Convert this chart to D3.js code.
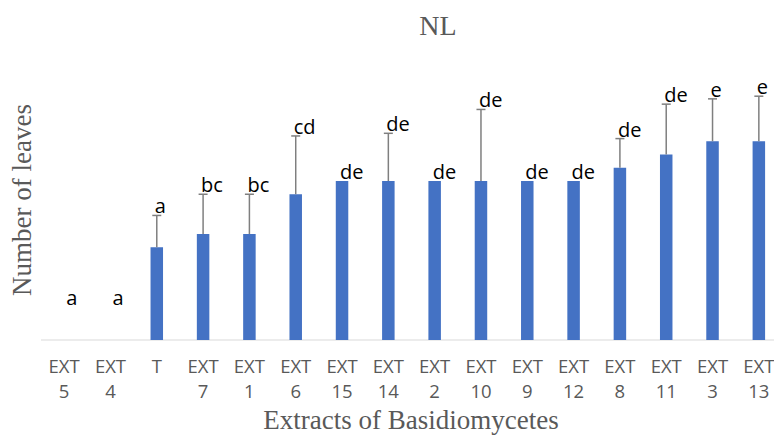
<!DOCTYPE html>
<html>
<head>
<meta charset="utf-8">
<script src="https://cdnjs.cloudflare.com/ajax/libs/d3/7.8.5/d3.min.js"></script>
<style>
  body { margin: 0; background: #fff; }
</style>
</head>
<body>
<script>
// Define SVG area dimensions
const svgWidth = 774;
const svgHeight = 437;

// Chart data
const categories = ["EXT 5", "EXT 4", "T", "EXT 7", "EXT 1", "EXT 6", "EXT 15", "EXT 14",
  "EXT 2", "EXT 10", "EXT 9", "EXT 12", "EXT 8", "EXT 11", "EXT 3", "EXT 13"];
const leaves = [0, 0, 3.5, 4, 4, 5.5, 6, 6, 6, 6, 6, 6, 6.5, 7, 7.5, 7.5];
const errors = [0, 0, 1.2, 1.5, 1.5, 2.2, 0, 1.8, 0, 2.7, 0, 0, 1.1, 1.9, 1.6, 1.7];
const groups = ["a", "a", "a", "bc", "bc", "cd", "de", "de", "de", "de", "de", "de", "de", "de", "e", "e"];

const data = categories.map((c, i) => ({
  name: c,
  value: leaves[i],
  err: errors[i],
  group: groups[i]
}));

// Select body, append SVG area to it, and set the dimensions
const svg = d3.select("body")
  .append("svg")
  .attr("width", svgWidth)
  .attr("height", svgHeight);

// Scales
const x = d3.scaleBand()
  .domain(categories)
  .range([41, 782])
  .padding(0);

const y = d3.scaleLinear()
  .domain([0, 10])
  .range([340, 75]);

const barWidth = 12.5;
const cx = d => x(d.name) + x.bandwidth() / 2;

// x axis line
svg.append("line")
  .attr("x1", 41)
  .attr("x2", svgWidth)
  .attr("y1", y(0))
  .attr("y2", y(0))
  .attr("stroke", "#d9d9d9")
  .attr("stroke-width", 1.2);

// bars
svg.selectAll(".bar")
  .data(data)
  .enter()
  .append("rect")
  .attr("class", "bar")
  .attr("x", d => cx(d) - barWidth / 2)
  .attr("y", d => y(d.value))
  .attr("width", barWidth)
  .attr("height", d => y(0) - y(d.value))
  .attr("fill", "#4472c4");

// error bars (upper only)
const withErr = data.filter(d => d.err > 0);
svg.selectAll(".err")
  .data(withErr)
  .enter()
  .append("line")
  .attr("x1", cx)
  .attr("x2", cx)
  .attr("y1", d => y(d.value))
  .attr("y2", d => y(d.value + d.err))
  .attr("stroke", "#7f7f7f")
  .attr("stroke-width", 1.5);

svg.selectAll(".cap")
  .data(withErr)
  .enter()
  .append("line")
  .attr("x1", d => cx(d) - 4.5)
  .attr("x2", d => cx(d) + 4.5)
  .attr("y1", d => y(d.value + d.err))
  .attr("y2", d => y(d.value + d.err))
  .attr("stroke", "#7f7f7f")
  .attr("stroke-width", 1.5);

// significance letters
svg.selectAll(".grp")
  .data(data)
  .enter()
  .append("text")
  .attr("x", d => d.value === 0 ? cx(d) + 2 : cx(d) - 2)
  .attr("y", d => Math.min(y(d.value + d.err) - 2, y(0) - 35))
  .attr("font-family", "'Open Sans', sans-serif")
  .attr("font-size", 20)
  .attr("fill", "#000")
  .text(d => d.group);

// category labels on two lines
const ticks = svg.selectAll(".tick")
  .data(data)
  .enter()
  .append("text")
  .attr("text-anchor", "middle")
  .attr("font-family", "'Open Sans', sans-serif")
  .attr("font-size", 18.5)
  .attr("fill", "#595959");

ticks.each(function(d) {
  const parts = d.name.split(" ");
  const t = d3.select(this);
  parts.forEach((p, i) => {
    t.append("tspan")
      .attr("x", cx(d))
      .attr("y", 373 + i * 25)
      .text(p);
  });
});

// title
svg.append("text")
  .attr("x", 438)
  .attr("y", 35)
  .attr("text-anchor", "middle")
  .attr("font-family", "'Liberation Serif', serif")
  .attr("font-size", 28)
  .attr("fill", "#595959")
  .text("NL");

// x axis title
svg.append("text")
  .attr("x", 411)
  .attr("y", 429)
  .attr("text-anchor", "middle")
  .attr("font-family", "'Liberation Serif', serif")
  .attr("font-size", 27)
  .attr("fill", "#595959")
  .text("Extracts of Basidiomycetes");

// y axis title
svg.append("text")
  .attr("transform", "translate(31, 200) rotate(-90)")
  .attr("text-anchor", "middle")
  .attr("font-family", "'Liberation Serif', serif")
  .attr("font-size", 27)
  .attr("fill", "#595959")
  .text("Number of leaves");
</script>
</body>
</html>
